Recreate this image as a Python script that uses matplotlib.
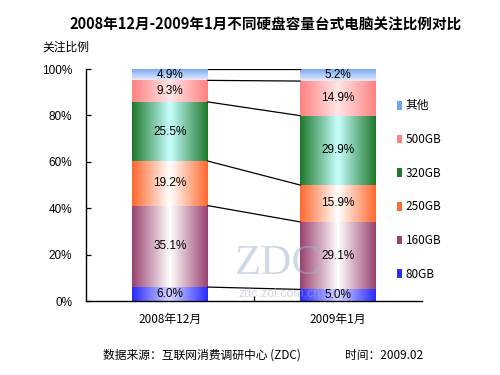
import numpy as np
import matplotlib; matplotlib.use("Agg")
import matplotlib.pyplot as plt
from matplotlib.colors import to_rgb
from matplotlib.patches import Rectangle

plt.rcParams['font.family'] = ['Noto Sans CJK SC', 'DejaVu Sans']

categories = ["2008年12月", "2009年1月"]
series = ["80GB", "160GB", "250GB", "320GB", "500GB", "其他"]
values = {
    "80GB":  [6.0, 5.0],
    "160GB": [35.1, 29.1],
    "250GB": [19.2, 15.9],
    "320GB": [25.5, 29.9],
    "500GB": [9.3, 14.9],
    "其他":  [4.9, 5.2],
}
yticks = [0, 20, 40, 60, 80, 100]

# (edge colour, centre colour) of each gradient
GRAD = {
    "80GB":  ("#2b2bff", "#d6d6ff"),
    "160GB": ("#9a4472", "#ffffff"),
    "250GB": ("#ff6a30", "#ffffff"),
    "320GB": ("#1f7a2c", "#c8ffff"),
    "500GB": ("#ff8282", "#ffe6e6"),
    "其他":  ("#6ea6f5", "#eaeaf8"),
}

def hgrad(edge, centre, n=64):
    e, c = np.array(to_rgb(edge)), np.array(to_rgb(centre))
    t = 1 - np.abs(np.linspace(-1, 1, n))
    return (e[None, :] * (1 - t[:, None]) + c[None, :] * t[:, None])[None, :, :]

def vgrad(top, bottom, n=64):
    a, b = np.array(to_rgb(top)), np.array(to_rgb(bottom))
    t = np.linspace(0, 1, n)
    return (a[None, :] * (1 - t[:, None]) + b[None, :] * t[:, None])[:, None, :]

fig = plt.figure(figsize=(5, 3.75), dpi=100)
ax = fig.add_axes([86/500, 1-301/375, 336/500, 232/375])
x = np.arange(len(categories))
w = 0.452
bottom = np.zeros(len(categories))
tops = []
for s in series:
    v = np.array(values[s])
    bars = ax.bar(x, v, w, bottom=bottom, color="none", edgecolor="none")
    for b, val in zip(bars, v):
        x0, y0 = b.get_x(), b.get_y()
        x1, y1 = x0 + b.get_width(), y0 + b.get_height()
        img = vgrad(*GRAD[s]) if s == "其他" else hgrad(*GRAD[s])
        ax.imshow(img, extent=(x0, x1, y0, y1), aspect="auto", zorder=2, interpolation="bilinear")
        ax.text((x0 + x1) / 2, (y0 + y1) / 2, f"{val:.1f}%", ha="center", va="center",
                fontsize=8.5, family=["Liberation Sans"], zorder=4)
    bottom = bottom + v
    tops.append(bottom.copy())

# connectors between bars
for c in tops:
    ax.plot([x[0] + w/2, x[1] - w/2], [c[0], c[1]], color="black", lw=0.9, zorder=3)

ax.set_xlim(-0.5, 1.5)
ax.set_ylim(0, 100)
ax.set_yticks(yticks)
ax.set_yticklabels([f"{t}%" for t in yticks], family=["Liberation Sans"], fontsize=8.5)
ax.set_xticks([0.5])
ax.set_xticklabels([""])
ax.tick_params(axis="both", direction="in", length=3.5, width=0.9, pad=10)
for sp in ["top", "right"]:
    ax.spines[sp].set_visible(False)
for sp in ["left", "bottom"]:
    ax.spines[sp].set_linewidth(1.0)
for xi, cat in zip(x, categories):
    ax.text(xi, -8, cat, ha="center", va="center", fontsize=8.5, clip_on=False)

# legend (top entry first)
handles = [Rectangle((0, 0), 1, 1, facecolor=GRAD[s][0], edgecolor="none") for s in series[::-1]]
fig.legend(handles, series[::-1], loc="center left", bbox_to_anchor=(391/500, 1-190/375),
           frameon=False, fontsize=8.5, handlelength=0.45, handleheight=0.75, handletextpad=0.3,
           labelspacing=1.75, borderpad=0)

# watermark
fig.text(278/500, 1-264/375, "ZDC", ha="center", va="center", fontsize=31,
         family=["Liberation Serif"], color="#9fb4cc", alpha=0.5, zorder=10)
fig.text(280/500, 1-294/375, "zdc.zol.com.cn", ha="center", va="center", fontsize=9,
         family=["Liberation Sans"], color="#9fb4cc", alpha=0.5, zorder=10)

fig.text(266/500, 1-25/375, "2008年12月-2009年1月不同硬盘容量台式电脑关注比例对比",
         ha="center", va="center", fontsize=10.5, fontweight="bold")
fig.text(42/500, 1-47/375, "关注比例", ha="left", va="center", fontsize=8.5)
fig.text(103/500, 1-355/375, "数据来源：互联网消费调研中心 (ZDC)", ha="left", va="center", fontsize=8.5)
fig.text(345/500, 1-355/375, "时间：2009.02", ha="left", va="center", fontsize=8.5)

fig.savefig("out.png", dpi=100)
